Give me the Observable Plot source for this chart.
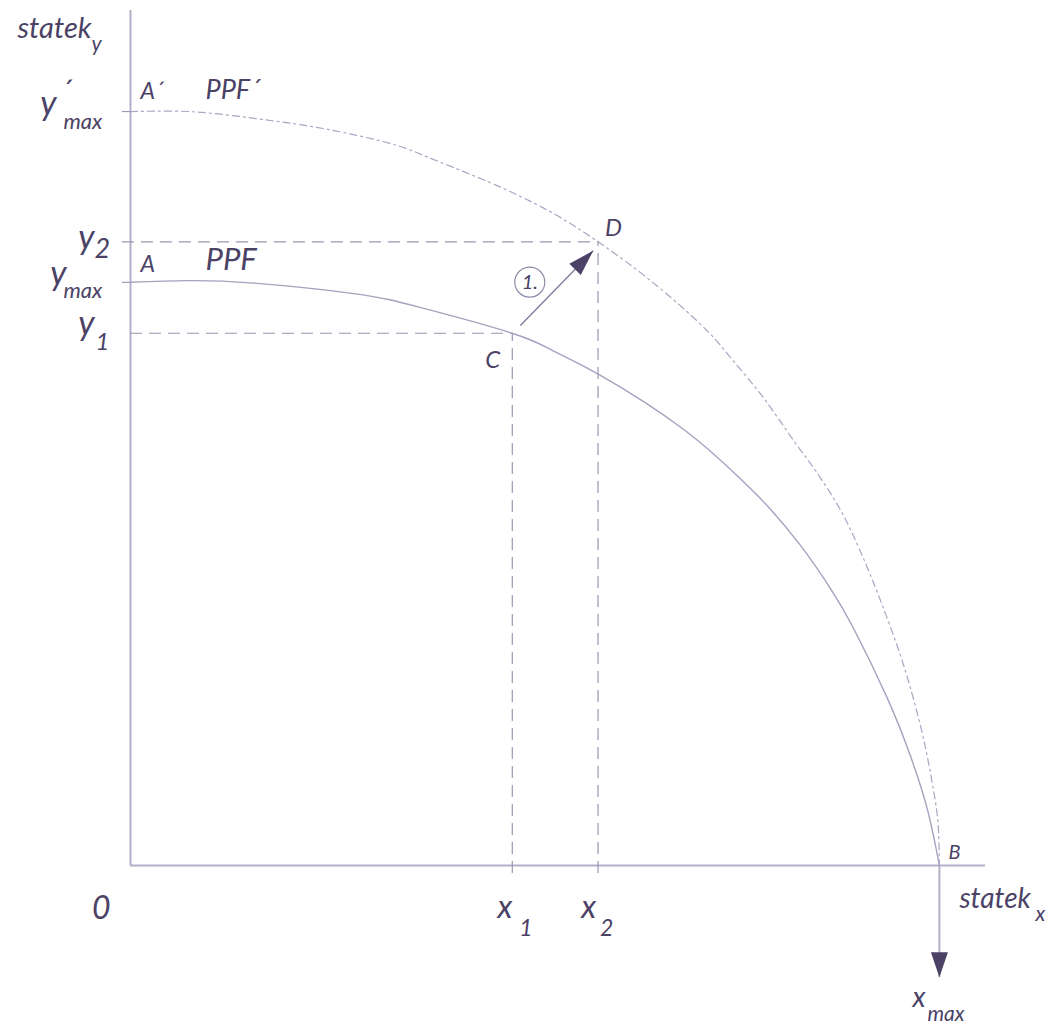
<!DOCTYPE html>
<html>
<head>
<meta charset="utf-8">
<script src="https://cdn.jsdelivr.net/npm/d3@7"></script>
<script src="https://cdn.jsdelivr.net/npm/@observablehq/plot@0.6"></script>
<style>
  body { margin: 0; background: #fff; }
  svg text { font-family: Lato, "Open Sans", sans-serif; font-style: italic; }
</style>
</head>
<body>
<div id="chart"></div>
<script>
// ---- data ----
const xMax = 100;                       // point B on the x axis
const axisXEnd = 105.7;
const axisYEnd = 105.7;
const xTickValues = [47.2, 57.8];       // x1, x2
const xTickSubs = ["1", "2"];
const yTickValues = [93.2, 77.1, 72.1, 65.8]; // y'max, y2, ymax, y1
const yTickSubs = ["max", "2", "max", "1"];

// PPF (solid)
const ppfX = [0, 7.0, 15.2, 27.6, 35.8, 47.2, 52.3, 58.1, 68.4, 75.4, 78.7, 82.8, 86.5, 89.4, 93.6, 96.4, 98.5, 100];
const ppfY = [72.1, 72.3, 72.0, 70.7, 69.0, 65.8, 63.6, 60.6, 53.9, 47.8, 44.5, 39.6, 34.3, 29.3, 20.6, 13.6, 7.0, 0];
// PPF' (dashed)
const ppf2X = [0, 7.4, 17.3, 24.4, 33.0, 37.9, 46.1, 52.3, 57.8, 64.3, 71.3, 74.5, 78.2, 82.0, 84.9, 87.8, 90.2, 92.7, 95.5, 97.7, 98.9, 99.8, 100];
const ppf2Y = [93.2, 93.2, 92.1, 91.0, 89.0, 87.1, 83.7, 80.6, 77.1, 72.3, 66.1, 62.4, 57.9, 52.5, 48.5, 43.9, 38.9, 32.8, 25.0, 17.1, 11.4, 5.6, 0];

// shift arrow C -> D
const shiftFrom = [48.2, 66.75];
const shiftTo = [57.2, 76.0];
const shiftLabel = "1.";
const xMaxArrowEnd = -13.8;

const pointNames = ["A´", "PPF´", "A", "PPF", "C", "D", "B", "0"];
const axisNames = ["statek", "y", "x"];

// ---- helpers ----
const TXT = "#4b4266";
const AX = "#b3afc8";
const GUIDE = "#9a95b3";
const CURVE = "#a6a1be";

const ppf = ppfX.map((x, i) => ({x, y: ppfY[i]}));
const ppf2 = ppf2X.map((x, i) => ({x, y: ppf2Y[i]}));

function lab(t, x, y, dx, dy, size, anchor = "start") {
  return Plot.text([{x, y, t}], {
    x: "x", y: "y", text: "t", dx, dy,
    fontSize: size, textAnchor: anchor, lineAnchor: "bottom", fill: TXT
  });
}

const head = (L, w) => ({
  draw(ctx) {
    ctx.moveTo(0, 0);
    ctx.lineTo(-w / 2, L);
    ctx.lineTo(w / 2, L);
    ctx.closePath();
  }
});

const ang = Math.atan2(shiftTo[0] - shiftFrom[0], shiftTo[1] - shiftFrom[1]) * 180 / Math.PI;
const mid = [(shiftFrom[0] + shiftTo[0]) / 2, (shiftFrom[1] + shiftTo[1]) / 2];

const [yPmax, y2, ymax, y1] = yTickValues;
const [x1, x2] = xTickValues;

const chart = Plot.plot({
  width: 1056,
  height: 1025,
  x: {domain: [0, axisXEnd], range: [130, 985], axis: null},
  y: {domain: [0, axisYEnd], range: [865, 10], axis: null},
  marks: [
    // axes
    Plot.ruleY([0], {x1: 0, x2: axisXEnd, stroke: AX, strokeWidth: 2}),
    Plot.ruleX([0], {y1: 0, y2: axisYEnd, stroke: AX, strokeWidth: 2}),
    // small solid ticks for y'max and ymax
    Plot.ruleY([yPmax, ymax], {x1: -1, x2: 0, stroke: "#8e89a8", strokeWidth: 1}),
    // dashed guides
    Plot.ruleY([y2], {x1: -1, x2: x2, stroke: GUIDE, strokeWidth: 1.2, strokeDasharray: "12,7"}),
    Plot.ruleY([y1], {x1: 0, x2: x1, stroke: GUIDE, strokeWidth: 1.2, strokeDasharray: "12,7"}),
    Plot.ruleX([x1], {y1: -1, y2: y1, stroke: GUIDE, strokeWidth: 1.2, strokeDasharray: "12,7"}),
    Plot.ruleX([x2], {y1: -1, y2: y2, stroke: GUIDE, strokeWidth: 1.2, strokeDasharray: "12,7"}),
    // curves
    Plot.line(ppf2, {x: "x", y: "y", stroke: "#aaa5c2", strokeWidth: 1.2, strokeDasharray: "7,4,2,4", curve: "catmull-rom"}),
    Plot.line(ppf, {x: "x", y: "y", stroke: CURVE, strokeWidth: 1.4, curve: "natural"}),
    // x_max arrow
    Plot.link([0], {x1: xMax, x2: xMax, y1: 0, y2: xMaxArrowEnd, stroke: AX, strokeWidth: 2}),
    Plot.dot([0], {x: xMax, y: xMaxArrowEnd, symbol: head(25, 17), rotate: 180, fill: TXT, stroke: "none"}),
    // shift arrow
    Plot.link([0], {x1: shiftFrom[0], y1: shiftFrom[1], x2: shiftTo[0], y2: shiftTo[1], stroke: "#7d7796", strokeWidth: 1.3}),
    Plot.dot([0], {x: shiftTo[0], y: shiftTo[1], symbol: head(26, 16), rotate: ang, fill: TXT, stroke: "none"}),
    Plot.dot([0], {x: mid[0], y: mid[1], dx: -27, dy: -6, r: 15, fill: "white", stroke: "#8e89a8", strokeWidth: 1.2}),
    Plot.text([0], {x: mid[0], y: mid[1], dx: -27, dy: -6, text: () => shiftLabel, fontSize: 20, fill: TXT}),

    // y tick labels
    lab("y", 0, yPmax, -74, 3, 34, "end"),
    lab("´", 0, yPmax, -70, -10, 30),
    lab(yTickSubs[0], 0, yPmax, -67, 17, 22),
    lab("y", 0, y2, -36, 7, 34, "end"),
    lab(yTickSubs[1], 0, y2, -36, 16, 27),
    lab("y", 0, ymax, -64, 3, 34, "end"),
    lab(yTickSubs[2], 0, ymax, -67, 16, 22),
    lab("y", 0, y1, -36, 2, 34, "end"),
    lab(yTickSubs[3], 0, y1, -35, 17, 24),

    // x tick labels
    lab(pointNames[7], 0, 0, -20, 53, 32, "end"),
    lab("x", x1, 0, 0, 52, 32, "end"),
    lab(xTickSubs[0], x1, 0, 7, 70, 23),
    lab("x", x2, 0, -2, 52, 32, "end"),
    lab(xTickSubs[1], x2, 0, 2, 70, 23),

    // axis titles
    lab(axisNames[0], 0, axisYEnd, -113, 27, 29),
    lab(axisNames[1], 0, axisYEnd, -39, 40, 21),
    lab(axisNames[0], xMax, 0, 20, 42, 28),
    lab(axisNames[2], xMax, 0, 96, 55, 21),
    lab("x", xMax, 0, -14, 141, 28, "end"),
    lab("max", xMax, 0, -12, 155, 21),

    // point labels
    lab(pointNames[0], 0, yPmax, 10, -13, 23),
    lab(pointNames[1], 0, yPmax, 75, -13, 27),
    lab(pointNames[2], 0, ymax, 10, -10, 23),
    lab(pointNames[3], 0, ymax, 75, -12, 31),
    lab(pointNames[4], x1, y1, -12, 35, 24, "end"),
    lab(pointNames[5], x2, y2, 7, -6, 24),
    lab(pointNames[6], xMax, 0, 9, -7, 20)
  ]
});
document.getElementById("chart").appendChild(chart);
</script>
</body>
</html>
